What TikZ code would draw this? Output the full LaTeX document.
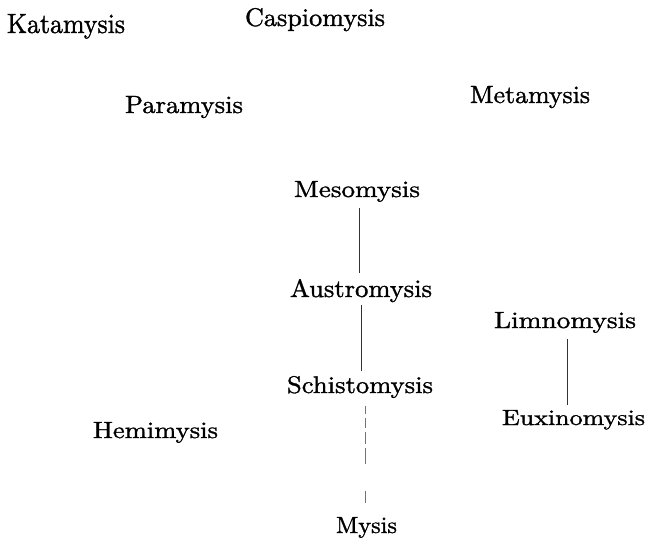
\documentclass[tikz,border=0pt]{standalone}
\usepackage{graphicx}
\usepackage{fontspec}
\newfontfamily\genusfont[FakeBold=1.2]{Latin Modern Roman}
\newcommand{\genusname}[3]{\resizebox{#1pt}{#2pt}{#3}}
\begin{document}
\begin{tikzpicture}[x=1pt,y=-1pt,
  genus/.style={anchor=base west, inner sep=0pt, outer sep=0pt, text=black, font=\genusfont},
  link/.style={line width=0.8pt, draw=black!80},
  dlink/.style={line width=0.7pt, draw=black!55,
    dash pattern=on 8pt off 4pt on 10pt off 4pt on 12pt off 4pt on 16pt off 27pt on 12pt off 40pt}]
\useasboundingbox (0,0) rectangle (647,541);
\node[genus] (kata)    at (7,33)    {\genusname{118}{19}{Katamysis}};
\node[genus] (caspio)  at (245,26)  {\genusname{140}{18}{Caspiomysis}};
\node[genus] (para)    at (125,113) {\genusname{118}{17}{Paramysis}};
\node[genus] (meta)    at (470,103) {\genusname{120}{17}{Metamysis}};
\node[genus] (meso)    at (294,197) {\genusname{126}{16}{Mesomysis}};
\node[genus] (austro)  at (290,297) {\genusname{142}{18}{Austromysis}};
\node[genus] (limno)   at (494,328) {\genusname{142}{16}{Limnomysis}};
\node[genus] (schisto) at (287,393) {\genusname{146}{17}{Schistomysis}};
\node[genus] (euxino)  at (502,425) {\genusname{143}{15}{Euxinomysis}};
\node[genus] (hemi)    at (93,438)  {\genusname{125}{16}{Hemimysis}};
\node[genus] (mysis)   at (336,533) {\genusname{61}{16}{Mysis}};
\draw[link] ([xshift=2pt,yshift=-6pt]meso.south) -- ([xshift=2pt,yshift=6pt]meso.south |- austro.north);
\draw[link] ([yshift=-3pt]austro.south) -- ([yshift=5pt]austro.south |- schisto.north);
\draw[dlink] ([xshift=5pt,yshift=-8pt]schisto.south) -- ([xshift=5pt,yshift=13pt]schisto.south |- mysis.north);
\draw[link, line width=0.7pt] ([xshift=2pt,yshift=-6pt]limno.south) -- ([xshift=2pt,yshift=5pt]limno.south |- euxino.north);
\end{tikzpicture}
\end{document}
